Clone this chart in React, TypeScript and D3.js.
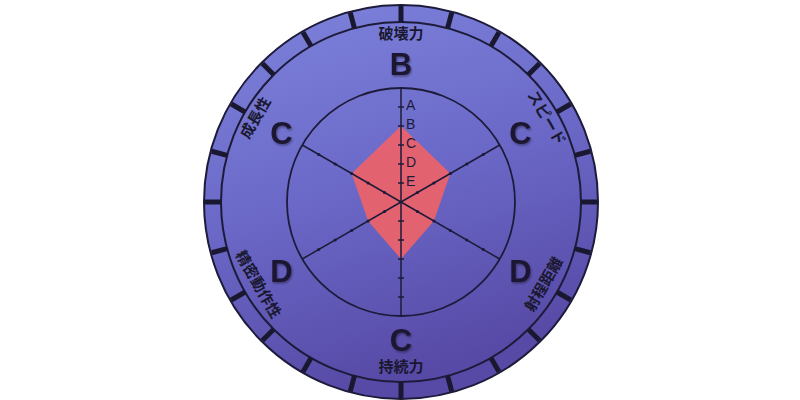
import * as d3 from 'd3'

// 能力項目（上から時計回り）
const categories = ['破壊力', 'スピード', '射程距離', '持続力', '精密動作性', '成長性']
const grades = ['B', 'C', 'D', 'C', 'D', 'C']
const gradeScale = ['A', 'B', 'C', 'D', 'E']
const gradeValue: Record<string, number> = { A: 5, B: 4, C: 3, D: 2, E: 1 }

const W = 800
const H = 400
const cx = 401
const cy = 202
const outerR = 197
const bandR = 180
const chartR = 114

const FONT = '"Noto Sans CJK JP", "Noto Sans", sans-serif'
const LETTER_FONT = '"Liberation Sans", Arial, sans-serif'

export default function App() {
  const r = d3.scaleLinear().domain([0, 6]).range([0, chartR])
  const angle = d3.scaleLinear().domain([0, categories.length]).range([0, 2 * Math.PI])
  const pt = (i: number, rad: number) => {
    const a = angle(i)
    return [cx + rad * Math.sin(a), cy - rad * Math.cos(a)]
  }

  const values = grades.map(g => gradeValue[g])
  const radar = d3.lineRadial<number>()
    .angle((_, i) => angle(i))
    .radius(d => r(d))
    .curve(d3.curveLinearClosed)

  // 外周の目盛り（24本）
  const ringTicks = d3.range(24).map(i => (i * 360) / 24)
  const levels = d3.range(1, 6)

  return (
    <svg width={W} height={H} style={{ position: 'absolute', left: 0, top: 0 }}>
      <defs>
        <linearGradient id="disc" x1="0" y1="0" x2="0.3" y2="1">
          <stop offset="0%" stopColor="#7e84dc" />
          <stop offset="50%" stopColor="#6c6ac9" />
          <stop offset="100%" stopColor="#574aa6" />
        </linearGradient>
        <filter id="shadow" x="-20%" y="-20%" width="140%" height="140%">
          <feDropShadow dx="1" dy="1.5" stdDeviation="1.2" floodColor="#000" floodOpacity="0.4" />
        </filter>
      </defs>

      <circle cx={cx} cy={cy} r={outerR} fill="url(#disc)" stroke="#1d1b3a" strokeWidth={2} />
      <circle cx={cx} cy={cy} r={bandR} fill="none" stroke="#1d1b3a" strokeWidth={2} />
      {ringTicks.map(a => (
        <line
          key={a}
          x1={cx}
          y1={cy - bandR}
          x2={cx}
          y2={cy - outerR + 1}
          transform={`rotate(${a},${cx},${cy})`}
          stroke="#1a1830"
          strokeWidth={5}
        />
      ))}

      {/* レーダー部分 */}
      <circle cx={cx} cy={cy} r={chartR} fill="none" stroke="#1d1b3a" strokeWidth={1.8} />
      <path d={radar(values) ?? ''} transform={`translate(${cx},${cy})`} fill="#ea626c" opacity={0.95} />
      {categories.map((c, i) => {
        const [x, y] = pt(i, chartR)
        return <line key={c} x1={cx} y1={cy} x2={x} y2={y} stroke="#1d1b3a" strokeWidth={1.5} />
      })}
      {categories.map((c, i) =>
        levels.map(l => {
          const [x, y] = pt(i, r(l))
          if (i === 0 || i === 3) {
            return <line key={c + l} x1={x - 3} y1={y} x2={x + 3} y2={y} stroke="#1d1b3a" strokeWidth={1.5} />
          }
          return <circle key={c + l} cx={x} cy={y} r={1.6} fill="#1d1b3a" />
        })
      )}
      {gradeScale.map(g => (
        <text
          key={g}
          x={cx + 5}
          y={cy - r(gradeValue[g]) - 1}
          fontFamily={LETTER_FONT}
          fontSize={14}
          fill="#1d1b3a"
          dominantBaseline="middle"
        >
          {g}
        </text>
      ))}

      {/* 項目名とランク */}
      {categories.map((c, i) => {
        const deg = (i * 360) / categories.length
        const rot = deg > 90 && deg < 270 ? deg - 180 : deg
        const [lx, ly] = pt(i, deg > 90 && deg < 270 ? 166 : 167)
        const [gx, gy] = pt(i, 138)
        return (
          <g key={c}>
            <text
              x={lx}
              y={ly}
              transform={`rotate(${rot},${lx},${ly})`}
              textAnchor="middle"
              dominantBaseline="middle"
              fontFamily={FONT}
              fontWeight="bold"
              fontSize={15}
              fill="#1a1830"
            >
              {c}
            </text>
            <text
              x={gx}
              y={gy}
              textAnchor="middle"
              dominantBaseline="central"
              fontFamily={LETTER_FONT}
              fontWeight="bold"
              fontSize={31}
              fill="#1a1830"
              filter="url(#shadow)"
            >
              {grades[i]}
            </text>
          </g>
        )
      })}
    </svg>
  )
}
